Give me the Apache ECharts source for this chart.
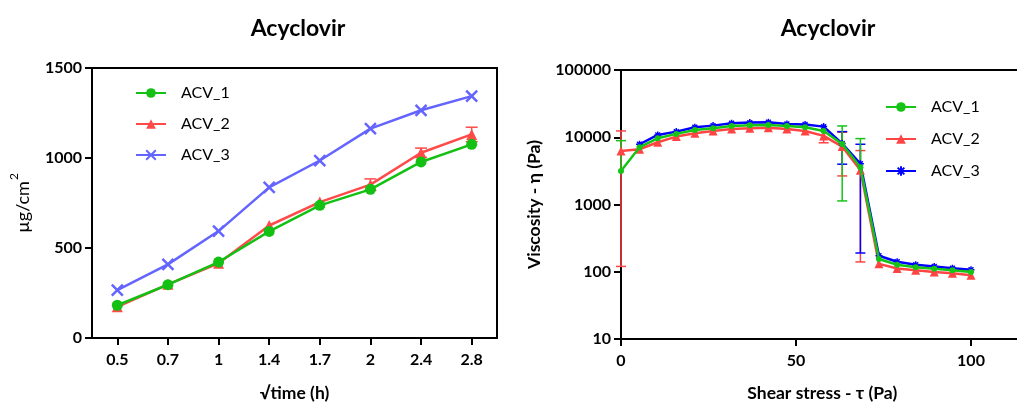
<!DOCTYPE html>
<html>
<head>
<meta charset="utf-8">
<script src="https://cdn.jsdelivr.net/npm/echarts@6/dist/echarts.min.js"></script>
<style>
  html, body { margin: 0; padding: 0; background: #fff; }
  #chart { width: 1017px; height: 403px; }
</style>
</head>
<body>
<div id="chart"></div>
<script>
// Permeation profile: cumulative amount vs square root of time
const timeRoot = ['0.5', '0.7', '1', '1.4', '1.7', '2', '2.4', '2.8'];
const permAcv1 = [182, 296, 422, 592, 737, 826, 978, 1076];
const permAcv2 = [173, 298, 415, 625, 755, 852, 1029, 1131];
const permAcv2Sd = [0, 0, 0, 0, 0, 32, 26, 40];
const permAcv3 = [266, 409, 594, 837, 986, 1163, 1265, 1344];
const permTicks = [0, 500, 1000, 1500];

// Rheology: viscosity vs shear stress (log scale)
const stress = [0, 5.3, 10.5, 15.8, 21.1, 26.3, 31.6, 36.8, 42.1, 47.4,
                52.6, 57.9, 63.2, 68.4, 73.7, 78.9, 84.2, 89.5, 94.7, 100];
const viscAcv1 = [3160, 7110, 9660, 11220, 12850, 13610, 14730, 15070, 15250, 14730,
                  14090, 12420, 7930, 3580, 155, 127, 117, 111, 105, 99];
const viscAcv1Sd = [5740, 0, 0, 0, 0, 0, 0, 0, 0, 0,
                    0, 0, 6800, 5970, 0, 0, 0, 0, 0, 0];
const viscAcv2 = [6270, 6640, 8430, 10230, 11480, 12420, 13300, 13610, 13900, 13300,
                  12420, 10470, 7260, 3240, 131, 112, 105, 99, 95, 89];
const viscAcv2Sd = [6150, 0, 0, 0, 0, 0, 0, 0, 0, 0,
                    0, 2200, 4600, 3100, 0, 0, 0, 0, 0, 0];
const viscAcv3 = [null, 7870, 10840, 12130, 14090, 14890, 16150, 16500, 16700, 15780,
                  15420, 14390, 8050, 4030, 173, 141, 127, 120, 113, 107];
const viscAcv3Sd = [0, 0, 0, 0, 0, 0, 0, 0, 0, 0,
                    0, 0, 4075, 3840, 0, 0, 0, 0, 0, 0];
const viscTicks = [10, 100, 1000, 10000, 100000];

const FONT = 'Lato';
const C1 = '#13c013', C2 = '#ff4a4a', C3L = '#6464ff', C3R = '#0000ff';
const G1 = '#16c416', R1 = '#ff4444';

const crossPath = 'path://M0,0L10,10M10,0L0,10';
const starPath = 'path://M5,0L5,10M0,5L10,5M1.5,1.5L8.5,8.5M8.5,1.5L1.5,8.5';

function errBars(xs, ys, sds, color, xi, yi, capHalf) {
  const data = [];
  for (let i = 0; i < ys.length; i++) {
    if (ys[i] == null || !sds[i]) continue;
    data.push([xs[i], ys[i] - sds[i], ys[i] + sds[i]]);
  }
  return {
    type: 'custom',
    xAxisIndex: xi, yAxisIndex: yi,
    silent: true, z: 1,
    renderItem: function (params, api) {
      const x = api.value(0);
      const lo = api.value(1), hi = api.value(2);
      const top = api.coord([x, hi]);
      const rect = params.coordSys;
      let bottomY;
      let drawLowCap = true;
      if (lo > 0) {
        bottomY = api.coord([x, lo])[1];
      } else {
        bottomY = api.coord([x, (hi + lo) / 2])[1];
        drawLowCap = false;
      }
      bottomY = Math.min(bottomY, rect.y + rect.height);
      const ch = [
        { type: 'line', shape: { x1: top[0], y1: top[1], x2: top[0], y2: bottomY },
          style: { stroke: color, lineWidth: 1.5 } },
        { type: 'line', shape: { x1: top[0] - capHalf, y1: top[1], x2: top[0] + capHalf, y2: top[1] },
          style: { stroke: color, lineWidth: 1.5 } }
      ];
      if (drawLowCap) {
        ch.push({ type: 'line', shape: { x1: top[0] - capHalf, y1: bottomY, x2: top[0] + capHalf, y2: bottomY },
          style: { stroke: color, lineWidth: 1.5 } });
      }
      return { type: 'group', children: ch };
    },
    data: data
  };
}

const chart = echarts.init(document.getElementById('chart'), null, { renderer: 'canvas' });

const axisText = { fontFamily: FONT, fontWeight: 'bold', fontSize: 16, color: '#000',
                   formatter: v => String(v) };
const blackLine = { show: true, lineStyle: { color: '#000', width: 2 } };
const blackTick = { show: true, inside: false, length: 7, lineStyle: { color: '#000', width: 2 } };
const nameStyle = { fontFamily: FONT, fontWeight: 'bold', fontSize: 17.5, color: '#000' };

const option = {
  animation: false,
  backgroundColor: '#fff',
  title: [
    { text: 'Acyclovir', left: 293, top: 12, textAlign: 'center',
      textStyle: { fontFamily: FONT, fontWeight: 'bold', fontSize: 23, color: '#000' } },
    { text: 'Acyclovir', left: 823, top: 12, textAlign: 'center',
      textStyle: { fontFamily: FONT, fontWeight: 'bold', fontSize: 23, color: '#000' } }
  ],
  legend: [
    { left: 130, top: 80, orient: 'vertical', itemWidth: 30, itemHeight: 12, itemGap: 15,
      data: ['ACV_1', 'ACV_2', 'ACV_3'].map(n => ({ name: n })),
      textStyle: { fontFamily: FONT, fontSize: 16, color: '#000', padding: [0, 0, 0, 10] },
      selectedMode: false },
    { left: 880, top: 94, orient: 'vertical', itemWidth: 30, itemHeight: 12, itemGap: 16,
      data: ['ACV_1 ', 'ACV_2 ', 'ACV_3 '].map(n => ({ name: n })),
      textStyle: { fontFamily: FONT, fontSize: 16, color: '#000', padding: [0, 0, 0, 10] },
      formatter: n => n.trim(),
      selectedMode: false }
  ],
  grid: [
    { left: 92, top: 68, width: 405, height: 270, show: true, borderColor: '#000', borderWidth: 2,
      containLabel: false, outerBoundsMode: 'none' },
    { left: 621, top: 70, width: 402.5, height: 269, show: true, borderColor: '#000', borderWidth: 2,
      containLabel: false, outerBoundsMode: 'none' }
  ],
  xAxis: [
    { type: 'category', gridIndex: 0, data: timeRoot, boundaryGap: true,
      axisLine: blackLine, axisTick: Object.assign({ alignWithLabel: true }, blackTick),
      axisLabel: Object.assign({}, axisText, { margin: 14 }),
      splitLine: { show: false },
      name: '√time (h)', nameLocation: 'middle', nameGap: 46,
      nameTextStyle: nameStyle },
    { type: 'value', gridIndex: 1, min: 0, max: 115, interval: 50,
      axisLine: blackLine, axisTick: blackTick,
      axisLabel: Object.assign({}, axisText, { margin: 14, showMaxLabel: false }),
      splitLine: { show: false },
      name: 'Shear stress - τ (Pa)', nameLocation: 'middle', nameGap: 45,
      nameTextStyle: nameStyle }
  ],
  yAxis: [
    { type: 'value', gridIndex: 0, min: permTicks[0], max: permTicks[permTicks.length - 1], interval: 500,
      axisLine: blackLine, axisTick: blackTick,
      axisLabel: Object.assign({}, axisText, { margin: 10 }),
      splitLine: { show: false },
      name: '{b|µg/cm}{s|2}', nameLocation: 'middle', nameGap: 60,
      nameTextStyle: {
        fontFamily: FONT, color: '#000',
        rich: {
          b: { fontFamily: FONT, fontSize: 18, color: '#000', lineHeight: 24, verticalAlign: 'bottom' },
          s: { fontFamily: FONT, fontSize: 12, color: '#000', lineHeight: 24, verticalAlign: 'top', padding: [0, 0, 10, 1] }
        }
      } },
    { type: 'log', gridIndex: 1, logBase: 10, min: viscTicks[0], max: viscTicks[viscTicks.length - 1],
      axisLine: blackLine, axisTick: blackTick, minorTick: { show: false },
      axisLabel: Object.assign({}, axisText, { margin: 10 }),
      splitLine: { show: false },
      name: 'Viscosity - η (Pa)', nameLocation: 'middle', nameGap: 78,
      nameTextStyle: { fontFamily: FONT, fontWeight: 'bold', fontSize: 17.5, color: '#000' } }
  ],
  series: [
    errBars(timeRoot.map((_, i) => i), permAcv2, permAcv2Sd, C2, 0, 0, 6),
    { name: 'ACV_1', type: 'line', xAxisIndex: 0, yAxisIndex: 0, data: permAcv1, z: 4,
      symbol: 'circle', symbolSize: 11,
      lineStyle: { color: C1, width: 2.5 }, itemStyle: { color: C1 } },
    { name: 'ACV_2', type: 'line', xAxisIndex: 0, yAxisIndex: 0, data: permAcv2, z: 3,
      symbol: 'triangle', symbolSize: 11,
      lineStyle: { color: C2, width: 2.5 }, itemStyle: { color: C2 } },
    { name: 'ACV_3', type: 'line', xAxisIndex: 0, yAxisIndex: 0, data: permAcv3, z: 3,
      symbol: crossPath, symbolSize: 11,
      lineStyle: { color: C3L, width: 2.5 }, itemStyle: { color: C3L, borderColor: C3L, borderWidth: 2.5 } },

    errBars(stress, viscAcv2, viscAcv2Sd, R1, 1, 1, 5),
    errBars(stress, viscAcv3, viscAcv3Sd, C3R, 1, 1, 5),
    errBars(stress, viscAcv1, viscAcv1Sd, G1, 1, 1, 5),
    { name: 'ACV_2 ', type: 'line', xAxisIndex: 1, yAxisIndex: 1, z: 3,
      data: stress.map((x, i) => [x, viscAcv2[i]]),
      symbol: 'triangle', symbolSize: 9,
      lineStyle: { color: R1, width: 2.5 }, itemStyle: { color: R1 } },
    { name: 'ACV_3 ', type: 'line', xAxisIndex: 1, yAxisIndex: 1, z: 3,
      data: stress.map((x, i) => [x, viscAcv3[i]]), connectNulls: false,
      symbol: starPath, symbolSize: 7,
      lineStyle: { color: C3R, width: 2.5 }, itemStyle: { color: C3R, borderColor: C3R, borderWidth: 1.5 } },
    { name: 'ACV_1 ', type: 'line', xAxisIndex: 1, yAxisIndex: 1, z: 4,
      data: stress.map((x, i) => [x, viscAcv1[i]]),
      symbol: 'circle', symbolSize: 6,
      lineStyle: { color: G1, width: 2.5 }, itemStyle: { color: G1 } }
  ]
};

chart.setOption(option);
</script>
</body>
</html>
